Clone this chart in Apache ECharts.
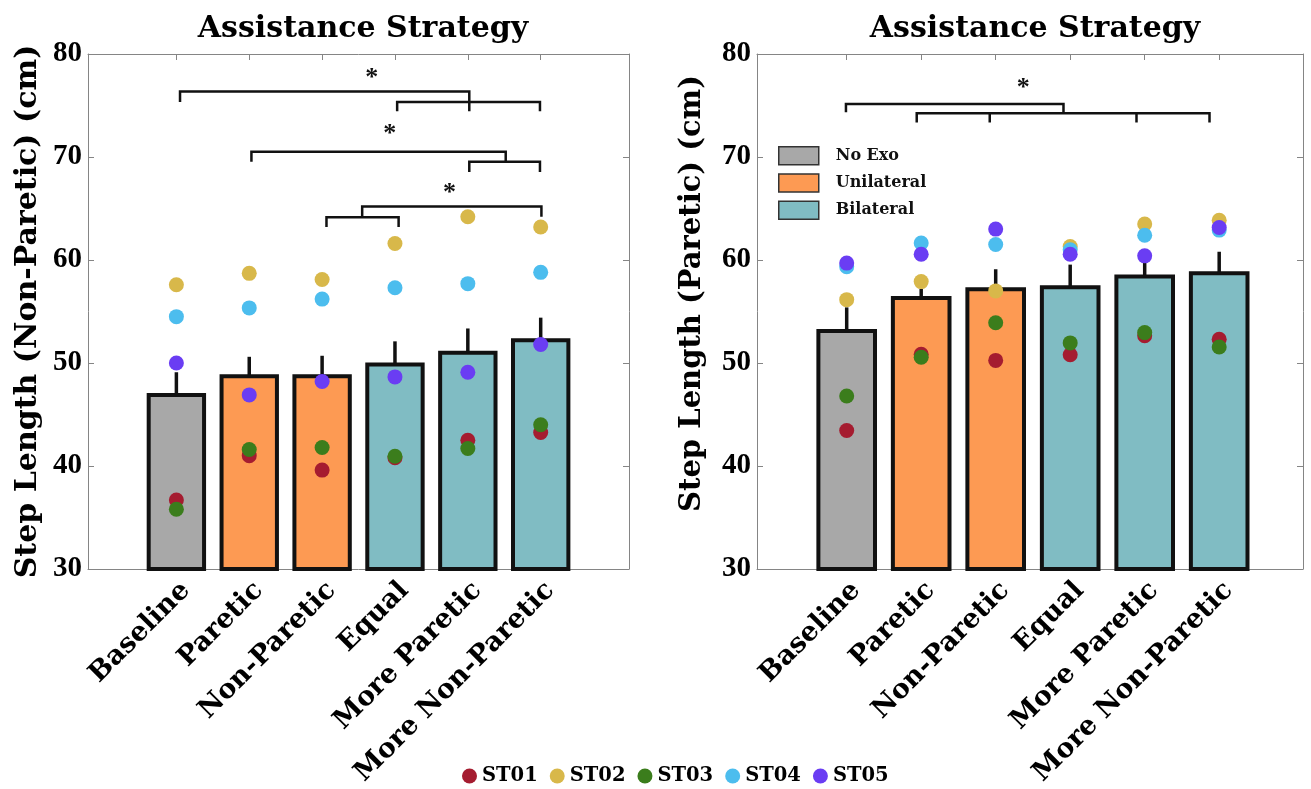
<!DOCTYPE html>
<html>
<head>
<meta charset="utf-8">
<script src="https://cdn.jsdelivr.net/npm/echarts@6/dist/echarts.min.js"></script>
<style>html,body{margin:0;padding:0;background:#fff}#c{width:1311px;height:789px}</style>
</head>
<body>
<div id="c"></div>
<script>
// ---------- data ----------
const categories = ['Baseline', 'Paretic', 'Non-Paretic', 'Equal', 'More Paretic', 'More Non-Paretic'];
const conditionGroup = ['No Exo', 'Unilateral', 'Unilateral', 'Bilateral', 'Bilateral', 'Bilateral'];
const groupNames = ['No Exo', 'Unilateral', 'Bilateral'];
const subjects = ['ST01', 'ST02', 'ST03', 'ST04', 'ST05'];
const yTicks = [30, 40, 50, 60, 70, 80];

// Left panel: non-paretic step length (cm)
const nonPareticMean = [46.9, 48.7, 48.7, 49.85, 51.0, 52.2];
const nonPareticErr  = [2.2, 1.9, 2.0, 2.25, 2.35, 2.2];
const nonPareticST01 = [36.7, 41.0, 39.6, 40.8, 42.5, 43.25];
const nonPareticST02 = [57.6, 58.7, 58.1, 61.6, 64.2, 63.2];
const nonPareticST03 = [35.8, 41.6, 41.8, 40.95, 41.7, 44.0];
const nonPareticST04 = [54.5, 55.35, 56.2, 57.3, 57.7, 58.8];
const nonPareticST05 = [50.0, 46.9, 48.2, 48.65, 49.1, 51.8];

// Right panel: paretic step length (cm)
const pareticMean = [53.1, 56.3, 57.15, 57.35, 58.4, 58.7];
const pareticErr  = [2.3, 0.9, 1.95, 2.2, 1.35, 2.1];
const pareticST01 = [43.45, 50.85, 50.25, 50.8, 52.65, 52.3];
const pareticST02 = [56.15, 57.9, 57.0, 61.3, 63.5, 63.85];
const pareticST03 = [46.8, 50.55, 53.9, 51.95, 52.95, 51.55];
const pareticST04 = [59.35, 61.65, 61.5, 61.0, 62.4, 62.9];
const pareticST05 = [59.7, 60.55, 63.0, 60.55, 60.4, 63.15];

// significance brackets (data coordinates: [condition position, cm])
const leftBrackets = [
  [[1.05, 75.35], [1.05, 76.35], [5.02, 76.35], [5.02, 74.45]],
  [[4.03, 74.45], [4.03, 75.35], [5.99, 75.35], [5.99, 74.45]],
  [[2.03, 69.55], [2.03, 70.5], [5.52, 70.5], [5.52, 69.55]],
  [[5.02, 68.55], [5.02, 69.55], [5.99, 69.55], [5.99, 68.55]],
  [[3.55, 64.15], [3.55, 65.2], [6.01, 65.2], [6.01, 64.2]],
  [[3.06, 63.2], [3.06, 64.15], [4.05, 64.15], [4.05, 63.2]]
];
const leftStars = [[3.68, 78.1], [3.93, 72.7], [4.75, 67.0]];
const rightBrackets = [
  [[0.99, 74.35], [0.99, 75.15], [3.91, 75.15], [3.91, 74.25]],
  [[1.94, 73.35], [1.94, 74.25], [5.87, 74.25], [5.87, 73.35]],
  [[2.92, 74.25], [2.92, 73.35]],
  [[4.89, 74.25], [4.89, 73.35]]
];
const rightStars = [[3.37, 77.2]];

// ---------- styles ----------
const groupColors = {'No Exo': '#a8a8a8', 'Unilateral': '#fd9a53', 'Bilateral': '#80bcc3'};
const subjectColors = ['#a51c30', '#d8b84a', '#3b7d1c', '#4cbdee', '#6a3df3'];
const SERIF = 'DejaVu Serif';
const TICKFONT = 'Liberation Serif';
const AXIS_GREY = '#858585';
const BAR_W = 0.76;
const Y_MIN = 30, Y_MAX = 80;

const panels = [
  {mean: nonPareticMean, err: nonPareticErr,
   pts: [nonPareticST01, nonPareticST02, nonPareticST03, nonPareticST04, nonPareticST05],
   brackets: leftBrackets, stars: leftStars,
   yName: 'Step Length (Non-Paretic) (cm)', yNameSize: 30, yNameGap: 45, yNamePad: [0, 0, 0, 0],
   grid: {left: 88, top: 54, width: 541, height: 515}, xmin: -0.213, xmax: 7.212, center: 358},
  {mean: pareticMean, err: pareticErr,
   pts: [pareticST01, pareticST02, pareticST03, pareticST04, pareticST05],
   brackets: rightBrackets, stars: rightStars,
   yName: 'Step Length (Paretic) (cm)', yNameSize: 29, yNameGap: 50, yNamePad: [0, 0, 0, 36],
   grid: {left: 757, top: 54, width: 546, height: 515}, xmin: -0.204, xmax: 7.125, center: 1030}
];

const tickPositions = categories.map((c, i) => i + 1);

const option = {
  animation: false,
  title: panels.map(p => ({
    text: 'Assistance Strategy', left: p.center, top: 9, textAlign: 'center',
    textStyle: {fontFamily: SERIF, fontWeight: 'bold', fontSize: 30, color: '#000'}
  })),
  grid: panels.map(p => Object.assign({containLabel: false}, p.grid)),
  xAxis: [],
  yAxis: [],
  legend: [
    {
      data: groupNames, orient: 'vertical', left: 778, top: 146, padding: 0,
      itemWidth: 40, itemHeight: 18, itemGap: 7.7, icon: 'rect',
      itemStyle: {borderColor: '#333', borderWidth: 1.5},
      textStyle: {fontFamily: SERIF, fontWeight: 'bold', fontSize: 16, color: '#111', padding: [0, 0, 0, 12]},
      selectedMode: false
    },
    {
      data: subjects, orient: 'horizontal', left: 462, top: 766, padding: 0, icon: 'circle',
      itemWidth: 15, itemHeight: 15, itemGap: 12,
      textStyle: {fontFamily: SERIF, fontWeight: 'bold', fontSize: 19.5, color: '#000'},
      selectedMode: false
    }
  ],
  series: []
};

panels.forEach((p, gi) => {
  const xb = {
    type: 'value', gridIndex: gi, min: p.xmin, max: p.xmax, position: 'bottom',
    axisLine: {show: true, onZero: false, lineStyle: {color: AXIS_GREY, width: 1}},
    axisTick: {show: true, inside: true, length: 6, customValues: tickPositions, lineStyle: {color: AXIS_GREY}},
    axisLabel: {
      show: true, customValues: tickPositions, rotate: 45, margin: 8, verticalAlign: 'top',
      formatter: v => categories[Math.round(v) - 1] || '',
      fontFamily: SERIF, fontWeight: 'bold', fontSize: 27, color: '#000'
    },
    splitLine: {show: false}
  };
  const xt = {
    type: 'value', gridIndex: gi, min: p.xmin, max: p.xmax, position: 'top',
    axisLine: {show: true, onZero: false, lineStyle: {color: AXIS_GREY, width: 1}},
    axisTick: {show: true, inside: true, length: 6, customValues: tickPositions, lineStyle: {color: AXIS_GREY}},
    axisLabel: {show: false}, splitLine: {show: false}
  };
  const yl = {
    type: 'value', gridIndex: gi, min: Y_MIN, max: Y_MAX, interval: 10, position: 'left',
    name: p.yName, nameLocation: 'middle', nameGap: p.yNameGap,
    nameTextStyle: {fontFamily: SERIF, fontWeight: 'bold', fontSize: p.yNameSize, color: '#000', padding: p.yNamePad},
    axisLine: {show: true, onZero: false, lineStyle: {color: AXIS_GREY, width: 1}},
    axisTick: {show: true, inside: true, length: 6, lineStyle: {color: AXIS_GREY}},
    axisLabel: {fontFamily: TICKFONT, fontWeight: 'bold', fontSize: 29, color: '#000', margin: 6},
    splitLine: {show: false}
  };
  const yr = {
    type: 'value', gridIndex: gi, min: Y_MIN, max: Y_MAX, interval: 10, position: 'right',
    axisLine: {show: true, onZero: false, lineStyle: {color: AXIS_GREY, width: 1}},
    axisTick: {show: true, inside: true, length: 6, lineStyle: {color: AXIS_GREY}},
    axisLabel: {show: false}, splitLine: {show: false}
  };
  const xi = option.xAxis.length;
  option.xAxis.push(xb, xt);
  const yi = option.yAxis.length;
  option.yAxis.push(yl, yr);

  // bars, one custom series per assistance group
  groupNames.forEach(g => {
    const data = [];
    p.mean.forEach((m, i) => { if (conditionGroup[i] === g) data.push([i + 1, m]); });
    option.series.push({
      type: 'custom', name: g, xAxisIndex: xi, yAxisIndex: yi, z: 1,
      itemStyle: {color: groupColors[g]},
      data: data,
      renderItem: (params, api) => {
        const x = api.value(0), y = api.value(1);
        const a = api.coord([x - BAR_W / 2, y]);
        const b = api.coord([x + BAR_W / 2, Y_MIN]);
        return {
          type: 'rect',
          shape: {x: a[0], y: a[1], width: b[0] - a[0], height: b[1] - a[1]},
          style: {fill: groupColors[g], stroke: '#111', lineWidth: 4}
        };
      }
    });
  });

  // upper error bars
  option.series.push({
    type: 'custom', name: 'err' + gi, xAxisIndex: xi, yAxisIndex: yi, z: 2,
    data: p.mean.map((m, i) => [i + 1, m, m + p.err[i]]),
    renderItem: (params, api) => {
      const a = api.coord([api.value(0), api.value(1)]);
      const b = api.coord([api.value(0), api.value(2)]);
      return {type: 'line', shape: {x1: a[0], y1: a[1], x2: b[0], y2: b[1]},
              style: {stroke: '#111', lineWidth: 3.5}};
    }
  });

  // individual subjects
  subjects.forEach((s, si) => {
    option.series.push({
      type: 'scatter', name: s, xAxisIndex: xi, yAxisIndex: yi, z: 3,
      symbol: 'circle', symbolSize: 15,
      itemStyle: {color: subjectColors[si], opacity: 1},
      data: p.pts[si].map((v, i) => [i + 1, v])
    });
  });

  // significance brackets
  option.series.push({
    type: 'custom', name: 'br' + gi, xAxisIndex: xi, yAxisIndex: yi, z: 4,
    data: p.brackets.map((b, i) => [i]),
    renderItem: (params, api) => {
      const pts = p.brackets[params.dataIndex].map(q => api.coord(q));
      return {type: 'polyline', shape: {points: pts},
              style: {stroke: '#111', lineWidth: 2.5, fill: null}};
    }
  });
  option.series.push({
    type: 'custom', name: 'star' + gi, xAxisIndex: xi, yAxisIndex: yi, z: 4,
    data: p.stars,
    renderItem: (params, api) => {
      const c = api.coord([api.value(0), api.value(1)]);
      return {type: 'text', style: {text: '*', x: c[0], y: c[1] + 5, textAlign: 'center', textVerticalAlign: 'middle',
              font: 'bold 26px "Liberation Serif"', fill: '#111'}};
    }
  });
});

const chart = echarts.init(document.getElementById('c'), null, {renderer: 'canvas'});
chart.setOption(option);
</script>
</body>
</html>
